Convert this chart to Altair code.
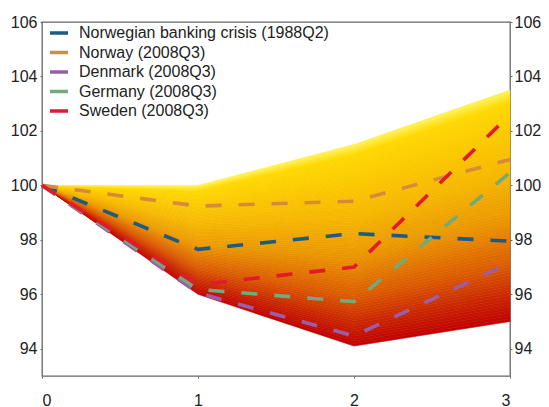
import altair as alt
import pandas as pd
import numpy as np

quarters = [0, 1, 2, 3]
fan_upper = [100.0, 100.0, 101.5, 103.5]
fan_lower = [100.0, 96.0, 94.1, 95.0]

series_names = [
    "Norwegian banking crisis (1988Q2)",
    "Norway (2008Q3)",
    "Denmark (2008Q3)",
    "Germany (2008Q3)",
    "Sweden (2008Q3)",
]
norwegian_crisis = [100.0, 97.65, 98.23, 97.95]
norway = [100.0, 99.24, 99.42, 100.95]
denmark = [100.0, 96.05, 94.47, 97.16]
germany = [100.0, 96.18, 95.73, 100.47]
sweden = [100.0, 96.35, 97.0, 102.6]
series_colors = ["#1f5a82", "#d68a3c", "#9a5ea8", "#72a97d", "#e31a2e"]

y_ticks = [94, 96, 98, 100, 102, 104, 106]

# fan shading: split the envelope into thin bands coloured from yellow (top) to red (bottom)
stops_t = [0.0, 0.05, 0.35, 0.55, 0.75, 0.9, 1.0]
stops_c = ["#fff45c", "#ffd800", "#f6b800", "#eb9800", "#dc5c00", "#c92200", "#c00000"]


def hex2rgb(h):
    return np.array([int(h[i:i + 2], 16) for i in (1, 3, 5)], dtype=float)


stop_rgb = np.array([hex2rgb(c) for c in stops_c])


def color_at(t):
    rgb = [np.interp(t, stops_t, stop_rgb[:, k]) for k in range(3)]
    return "#%02x%02x%02x" % tuple(int(round(v)) for v in rgb)


n_bands = 80
rows = []
for k in range(n_bands):
    f0 = k / n_bands
    f1 = (k + 1) / n_bands
    col = color_at(1 - (f0 + f1) / 2)
    for q, lo, hi in zip(quarters, fan_lower, fan_upper):
        rows.append({"q": q, "y": lo + (hi - lo) * f0, "y2": lo + (hi - lo) * f1,
                     "band": k, "col": col})
fan_df = pd.DataFrame(rows)

line_rows = []
for name, vals in zip(series_names,
                      [norwegian_crisis, norway, denmark, germany, sweden]):
    for q, v in zip(quarters, vals):
        line_rows.append({"q": q, "v": v, "series": name})
line_df = pd.DataFrame(line_rows)

xscale = alt.Scale(domain=[0, 3], nice=False)
yscale = alt.Scale(domain=[93, 106], nice=False)

x_axis = alt.Axis(values=quarters, format="d", title=None, grid=False,
                  tickSize=2, labelPadding=14, domain=False)

fan = alt.Chart(fan_df).mark_area(strokeWidth=0.6, opacity=1).encode(
    x=alt.X("q:Q", scale=xscale, axis=x_axis),
    y=alt.Y("y:Q", scale=yscale,
            axis=alt.Axis(values=y_ticks, title=None, grid=False, tickSize=2,
                          labelPadding=3, orient="left", domain=False)),
    y2="y2:Q",
    fill=alt.Fill("col:N", scale=None, legend=None),
    stroke=alt.Stroke("col:N", scale=None, legend=None),
    detail="band:N",
)

lines = alt.Chart(line_df).mark_line(strokeWidth=3.6, strokeDash=[16, 17]).encode(
    x=alt.X("q:Q", scale=xscale, axis=x_axis),
    y=alt.Y("v:Q", scale=yscale,
            axis=alt.Axis(values=y_ticks, title=None, grid=False, tickSize=2,
                          labelPadding=2, orient="right", domain=False)),
    color=alt.Color("series:N", sort=series_names,
                    scale=alt.Scale(domain=series_names, range=series_colors),
                    legend=alt.Legend(title=None, orient="none", legendX=6, legendY=0,
                                      symbolType="stroke", symbolSize=324,
                                      symbolStrokeWidth=3.6, symbolDash=[1, 0],
                                      labelFontSize=16, labelOffset=9,
                                      labelLimit=500,
                                      rowPadding=0.5, padding=0,
                                      labelColor="#222222")),
)

chart = alt.layer(fan, lines).resolve_axis(y="independent").resolve_scale(
    color="independent", stroke="independent"
).properties(
    width=468, height=354,
    padding={"left": 2, "top": 6, "right": 0, "bottom": 0},
).configure_view(
    stroke="#666666", strokeWidth=1.3
).configure_axis(
    labelFont="Liberation Sans", labelFontSize=16, labelColor="#222222",
    tickColor="#666666"
).configure_legend(
    labelFont="Liberation Sans"
)

chart.save("out.html", embed_options={"renderer": "svg", "actions": False})
